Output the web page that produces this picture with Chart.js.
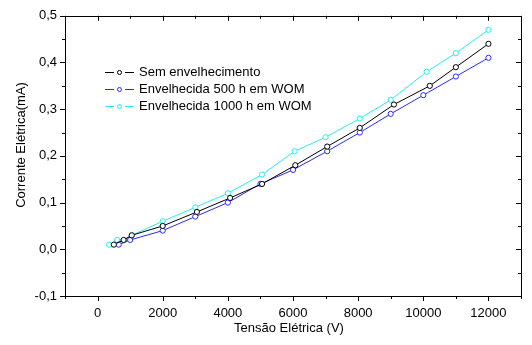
<!DOCTYPE html>
<html>
<head>
<meta charset="utf-8">
<script src="https://cdn.jsdelivr.net/npm/chart.js@4/dist/chart.umd.min.js"></script>
<style>
  html, body { margin: 0; padding: 0; background: #fff; }
  #wrap { width: 532px; height: 345px; }
</style>
</head>
<body>
<div id="wrap"><canvas id="ivChart"></canvas></div>
<script>
// Corrente x Tensão - amostras envelhecidas
const seriesNames = ["Sem envelhecimento", "Envelhecida 500 h em WOM", "Envelhecida 1000 h em WOM"];
const seriesColors = ["#000000", "#2a2aff", "#22f0f0"];

const semV = [500, 800, 1050, 2000, 3050, 4070, 5050, 6070, 7050, 8050, 9100, 10200, 11000, 12000];
const semI = [0.01, 0.02, 0.03, 0.05, 0.08, 0.11, 0.14, 0.18, 0.22, 0.26, 0.31, 0.35, 0.39, 0.44];

const e500V = [650, 1000, 2000, 3000, 4000, 5000, 6000, 7050, 8050, 9000, 10000, 11000, 12000];
const e500I = [0.01, 0.02, 0.04, 0.07, 0.10, 0.14, 0.17, 0.21, 0.25, 0.29, 0.33, 0.37, 0.41];

const e1000V = [350, 600, 800, 1050, 2000, 3000, 4000, 5050, 6050, 7000, 8050, 9000, 10100, 11000, 12000];
const e1000I = [0.01, 0.02, 0.02, 0.03, 0.06, 0.09, 0.12, 0.16, 0.21, 0.24, 0.28, 0.32, 0.38, 0.42, 0.47];

const xTicks = [0, 2000, 4000, 6000, 8000, 10000, 12000];
const yTicks = [-0.1, 0, 0.1, 0.2, 0.3, 0.4, 0.5];

const FONT = "Liberation Sans, Arial, sans-serif";

function pts(xs, ys) {
  return xs.map((x, i) => ({ x: x, y: ys[i] }));
}

const dataXY = [pts(semV, semI), pts(e500V, e500I), pts(e1000V, e1000I)];

// frame, ticks, axis titles and legend
const framePlugin = {
  id: "frame",
  afterDraw(chart) {
    const ctx = chart.ctx;
    const a = chart.chartArea;
    const xs = chart.scales.x, ys = chart.scales.y;
    ctx.save();
    ctx.strokeStyle = "#000";
    ctx.lineWidth = 1;
    ctx.strokeRect(Math.round(a.left) + 0.5, Math.round(a.top) + 0.5,
      Math.round(a.right - a.left), Math.round(a.bottom - a.top));

    ctx.beginPath();
    for (let v = -1000; v <= 13000; v += 1000) {
      const px = Math.round(xs.getPixelForValue(v)) + 0.5;
      const len = (v % 2000 === 0) ? 5 : 3;
      ctx.moveTo(px, a.bottom); ctx.lineTo(px, a.bottom + len);
      ctx.moveTo(px, a.top); ctx.lineTo(px, a.top + len);
    }
    for (let k = -2; k <= 10; k++) {
      const v = k * 0.05;
      const py = Math.round(ys.getPixelForValue(v)) + 0.5;
      const len = (k % 2 === 0) ? 5 : 3;
      ctx.moveTo(a.left, py); ctx.lineTo(a.left - len, py);
      ctx.moveTo(a.right, py); ctx.lineTo(a.right - len, py);
    }
    ctx.stroke();

    // axis titles
    ctx.fillStyle = "#000";
    ctx.font = "13px " + FONT;
    ctx.textAlign = "center";
    ctx.textBaseline = "middle";
    ctx.fillText("Tensão Elétrica (V)", 289, 328);
    ctx.save();
    ctx.translate(21, 145);
    ctx.rotate(-Math.PI / 2);
    ctx.fillText("Corrente Elétrica(mA)", 0, 0);
    ctx.restore();

    // legend
    ctx.textAlign = "left";
    seriesNames.forEach((name, i) => {
      const y = 72.5 + i * 17;
      ctx.strokeStyle = seriesColors[i];
      ctx.beginPath();
      ctx.moveTo(105, y); ctx.lineTo(114, y);
      ctx.moveTo(125, y); ctx.lineTo(134, y);
      ctx.stroke();
      ctx.beginPath();
      ctx.arc(119.5, y, 2, 0, Math.PI * 2);
      ctx.stroke();
      ctx.fillStyle = "#000";
      ctx.fillText(name, 139, y);
    });
    ctx.restore();
  }
};

const ctx = document.getElementById("ivChart").getContext("2d");

new Chart(ctx, {
  type: "line",
  data: {
    datasets: seriesNames.map((name, i) => ({
      label: name,
      data: dataXY[i],
      borderColor: seriesColors[i],
      backgroundColor: "#ffffff",
      borderWidth: 1,
      pointRadius: 2.6,
      pointBorderWidth: 1,
      pointBorderColor: seriesColors[i],
      pointBackgroundColor: "#ffffff",
      tension: 0
    }))
  },
  options: {
    responsive: true,
    maintainAspectRatio: false,
    animation: false,
    layout: { padding: { top: 15, right: 11, left: 0, bottom: 0 } },
    plugins: {
      legend: { display: false },
      tooltip: { enabled: false }
    },
    scales: {
      x: {
        type: "linear",
        min: -1000,
        max: 13000,
        afterBuildTicks: s => { s.ticks = xTicks.map(v => ({ value: v })); },
        afterFit: s => { s.height = 49; },
        grid: { display: false, drawTicks: false },
        border: { display: false },
        ticks: {
          color: "#000",
          padding: 10,
          maxRotation: 0,
          font: { family: FONT, size: 13 },
          callback: v => String(v)
        }
      },
      y: {
        type: "linear",
        min: -0.1,
        max: 0.5,
        afterBuildTicks: s => { s.ticks = yTicks.map(v => ({ value: v })); },
        afterFit: s => { s.width = 65; },
        grid: { display: false, drawTicks: false },
        border: { display: false },
        ticks: {
          color: "#000",
          padding: 8,
          font: { family: FONT, size: 13 },
          callback: v => Number(v).toFixed(1).replace(".", ",")
        }
      }
    }
  },
  plugins: [framePlugin]
});
</script>
</body>
</html>
